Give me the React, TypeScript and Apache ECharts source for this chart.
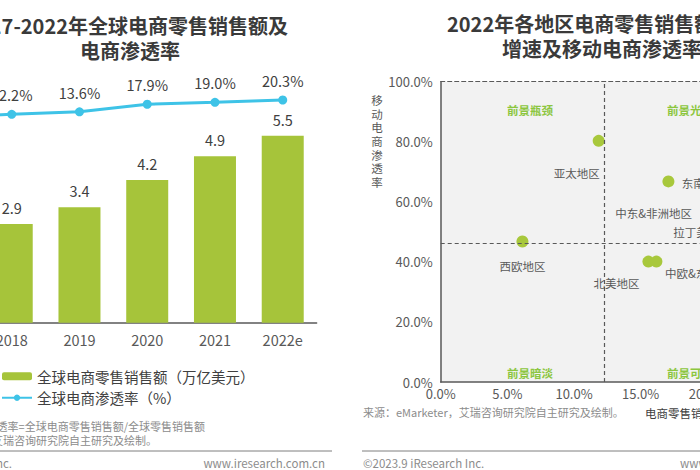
import React, { useEffect, useRef } from "react";
import * as echarts from "echarts";

// ---------- Left chart data ----------
const years = ["2017", "2018", "2019", "2020", "2021", "2022e"];
const salesTrillionUSD = [2.4, 2.9, 3.4, 4.2, 4.9, 5.5];
const penetrationPct = [10.4, 12.2, 13.6, 17.9, 19.0, 20.3];
const leftSeriesNames = ["全球电商零售销售额（万亿美元）", "全球电商渗透率（%）"];

// ---------- Right chart data ----------
const regions = ["亚太地区", "东南亚地区", "西欧地区", "北美地区", "中欧&东欧地区", "中东&非洲地区", "拉丁美洲地区"];
const regionGrowthPct = [11.85, 17.08, 6.13, 15.58, 16.18, 21.0, 24.0];
const regionMobilePct = [80.3, 66.8, 46.8, 40.1, 40.1, 56.0, 50.0];
const dividerGrowthPct = 12.27;
const dividerMobilePct = 46.2;
const quadrantNames = ["前景瓶颈", "前景光明", "前景暗淡", "前景可期"];
const xTicksPct = [0, 25, 5];
const yTicksPct = [0, 100, 20];

// label placement (style only)
const regionLabelOffsets = [[-22, 32], [42, 2], [0, 25], [-32, 21], [47, 11], [-67, -1], [-53, 0]];

const FONT = "'Noto Sans CJK SC', 'Microsoft YaHei', sans-serif";
const GREEN = "#a6c43a";
const BLUE = "#3ec3e7";
const AXIS = "#595959";
const GRAY = "#8c8c8c";
// the canvas is wider than the window; the photo shows the part from OX on
const OX = 100;

export default function App() {
  const ref = useRef<HTMLDivElement>(null);
  useEffect(() => {
    if (!ref.current) return;
    const chart = echarts.init(ref.current, undefined, { renderer: "svg" });
    const txt = (text: string, x: number, y: number, font: string, fill: string, align = "left") => ({
      type: "text",
      x: x + OX,
      y,
      silent: true,
      style: { text, font, fill, textAlign: align, align, textVerticalAlign: "middle", verticalAlign: "middle" },
    });
    const option: any = {
      animation: false,
      textStyle: { fontFamily: FONT },
      legend: {
        orient: "vertical",
        left: -4 + OX,
        top: 364,
        itemWidth: 30,
        itemHeight: 8,
        itemGap: 7,
        data: leftSeriesNames,
        textStyle: { fontSize: 14.5, color: "#404040", fontFamily: FONT },
      },
      grid: [
        { left: -89.9 + OX, top: 80, width: 406.5, height: 242.7 },
        { left: 440.7 + OX, top: 81.7, width: 333.3, height: 300.3, show: true, backgroundColor: "#f2f2f2", borderWidth: 0 },
      ],
      xAxis: [
        {
          type: "category",
          gridIndex: 0,
          data: years,
          axisLine: { lineStyle: { color: AXIS, width: 1.5 } },
          axisTick: { show: false },
          axisLabel: { fontSize: 14.5, color: AXIS, margin: 10 },
        },
        {
          type: "value",
          gridIndex: 1,
          min: xTicksPct[0],
          max: xTicksPct[1],
          interval: xTicksPct[2],
          axisLine: { show: true, onZero: false, lineStyle: { color: AXIS, width: 1.5 } },
          axisTick: { show: false },
          splitLine: { show: false },
          axisLabel: { fontSize: 13, color: AXIS, margin: 5, formatter: (v: number) => v.toFixed(1) + "%" },
        },
        {
          type: "value",
          gridIndex: 1,
          position: "top",
          min: xTicksPct[0],
          max: xTicksPct[1],
          axisLine: { show: true, onZero: false, lineStyle: { color: AXIS, width: 1.2, type: [4, 3] } },
          axisTick: { show: false },
          splitLine: { show: false },
          axisLabel: { show: false },
        },
      ],
      yAxis: [
        { type: "value", gridIndex: 0, min: 0, max: 7.14, show: false },
        { type: "value", gridIndex: 0, min: -105.9, max: 31.63, show: false },
        {
          type: "value",
          gridIndex: 1,
          min: yTicksPct[0],
          max: yTicksPct[1],
          interval: yTicksPct[2],
          axisLine: { show: true, onZero: false, lineStyle: { color: AXIS, width: 1.5 } },
          axisTick: { show: false },
          splitLine: { show: false },
          axisLabel: { fontSize: 13, color: AXIS, margin: 8, formatter: (v: number) => v.toFixed(1) + "%" },
        },
      ],
      series: [
        {
          name: leftSeriesNames[0],
          type: "bar",
          xAxisIndex: 0,
          yAxisIndex: 0,
          data: salesTrillionUSD,
          barWidth: 42,
          itemStyle: { color: GREEN },
          label: { show: true, position: "top", distance: 9, fontSize: 14.5, color: "#404040", formatter: (p: any) => p.value.toFixed(1) },
        },
        {
          name: leftSeriesNames[1],
          type: "line",
          xAxisIndex: 0,
          yAxisIndex: 1,
          data: penetrationPct,
          symbol: "circle",
          symbolSize: 9,
          itemStyle: { color: BLUE },
          lineStyle: { color: BLUE, width: 3 },
          label: { show: true, position: "top", distance: 8, fontSize: 14.5, color: "#404040", formatter: (p: any) => p.value.toFixed(1) + "%" },
        },
        {
          name: "regions",
          type: "scatter",
          xAxisIndex: 1,
          yAxisIndex: 2,
          symbolSize: 12,
          itemStyle: { color: "#a8c83c", opacity: 1 },
          data: regions.map((r, i) => ({
            name: r,
            value: [regionGrowthPct[i], regionMobilePct[i]],
            label: { offset: regionLabelOffsets[i] },
          })),
          label: { show: true, position: "inside", formatter: (p: any) => p.name, fontSize: 11.5, color: AXIS },
          markLine: {
            silent: true,
            symbol: "none",
            label: { show: false },
            lineStyle: { color: AXIS, width: 1.2, type: [4, 3] },
            data: [{ xAxis: dividerGrowthPct }, { yAxis: dividerMobilePct }],
          },
        },
      ],
      graphic: [
        // left titles
        txt("2017-2022年全球电商零售销售额及", 288, 25, `bold 20px ${FONT}`, "#3a3a3a", "right"),
        txt("电商渗透率", 80, 50, `bold 20px ${FONT}`, "#3a3a3a", "left"),
        // left notes
        txt("注释：全球电商渗透率=全球电商零售销售额/全球零售销售额", 205, 426, `11px ${FONT}`, GRAY, "right"),
        txt("来源：eMarketer，艾瑞咨询研究院自主研究及绘制。", 157, 439.5, `11px ${FONT}`, GRAY, "right"),
        { type: "line", silent: true, shape: { x1: OX - 20, y1: 451, x2: OX + 332, y2: 451 }, style: { stroke: "#7f7f7f", lineWidth: 1 } },
        txt("©2023.9 iResearch Inc.", 12, 463, `11.5px ${FONT}`, GRAY, "right"),
        txt("www.iresearch.com.cn", 325, 463, `11.5px ${FONT}`, GRAY, "right"),
        // right titles
        txt("2022年各地区电商零售销售额", 447, 23.5, `bold 20px ${FONT}`, "#3a3a3a", "left"),
        txt("增速及移动电商渗透率", 502, 48, `bold 20px ${FONT}`, "#3a3a3a", "left"),
        // y axis name (vertical)
        {
          type: "text",
          x: 377 + OX,
          y: 93,
          silent: true,
          style: {
            text: "移\n动\n电\n商\n渗\n透\n率",
            font: `11.5px ${FONT}`,
            lineHeight: 13.7,
            fill: AXIS,
            textAlign: "center",
            align: "center",
            textVerticalAlign: "top",
            verticalAlign: "top",
          },
        },
        // quadrant labels
        txt(quadrantNames[0], 507, 110, `bold 11.5px ${FONT}`, "#8cc63f", "left"),
        txt(quadrantNames[1], 667, 110, `bold 11.5px ${FONT}`, "#8cc63f", "left"),
        txt(quadrantNames[2], 507, 373, `bold 11.5px ${FONT}`, "#8cc63f", "left"),
        txt(quadrantNames[3], 667, 373, `bold 11.5px ${FONT}`, "#8cc63f", "left"),
        // x axis name
        txt("电商零售销售额增速", 645, 413, `11.5px ${FONT}`, "#404040", "left"),
        // right source & footer
        txt("来源：eMarketer，艾瑞咨询研究院自主研究及绘制。", 363, 412, `11px ${FONT}`, GRAY, "left"),
        { type: "line", silent: true, shape: { x1: OX + 362, y1: 451, x2: OX + 790, y2: 451 }, style: { stroke: "#7f7f7f", lineWidth: 1 } },
        txt("©2023.9 iResearch Inc.", 363, 463, `11.5px ${FONT}`, GRAY, "left"),
        txt("www.iresearch.com.cn", 680, 463, `11.5px ${FONT}`, GRAY, "left"),
      ],
    };
    chart.setOption(option);
    return () => chart.dispose();
  }, []);
  return (
    <div
      ref={ref}
      style={{ position: "fixed", left: -OX, top: 0, width: 900, height: 470, background: "#ffffff" }}
    />
  );
}
